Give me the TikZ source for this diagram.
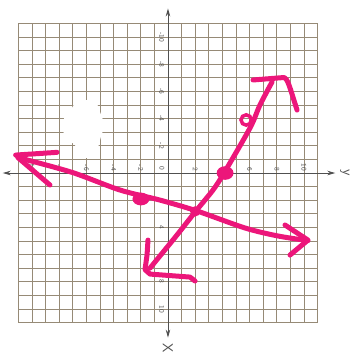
\documentclass[tikz,border=0pt]{standalone}
\usetikzlibrary{arrows.meta}
\definecolor{marker}{RGB}{236,22,122}
\definecolor{paper}{RGB}{150,138,118}
\definecolor{axisgray}{RGB}{80,80,80}
\begin{document}
\begin{tikzpicture}[x=13.6pt, y=13.6pt,
  gridline/.style={draw=paper, line width=0.7pt, step=1},
  axisline/.style={draw=axisgray, line width=0.9pt, {Stealth[length=8pt,width=4.5pt]}-{Stealth[length=8pt,width=4.5pt]}},
  tick/.style={font=\sffamily\scriptsize, text=axisgray, rotate=-90, inner sep=0pt},
  axlab/.style={font=\sffamily\Large, text=axisgray, rotate=-90, inner sep=0pt},
  ink/.style={draw=marker, line width=5pt, line cap=round, line join=round}]
\useasboundingbox (-12.35,-13.82) rectangle (13.97,12.72);
\draw[gridline] (-11,-11) grid (11,11);
\fill[white] plot[smooth cycle] coordinates {(-6.62,5.37) (-5.37,5.22) (-5.0,4.49) (-4.71,3.53) (-5.0,2.43) (-5.22,1.69) (-5.74,1.10) (-6.47,1.32) (-6.84,2.06) (-7.5,2.57) (-7.79,3.53) (-7.5,4.26) (-7.06,4.78)};
\coordinate (west) at (-12.15,0);
\coordinate (east) at (12.3,0);
\coordinate (north) at (0,12.1);
\coordinate (south) at (0,-12.1);
\draw[axisline] (west) -- (east);
\draw[axisline] (north) -- (south);
\node[axlab] (ylab) at (13.0,0) {y};
\node[axlab] (xlab) at (0,-12.85) {X};
\node[tick] (o) at (-0.44,0.37) {0};
\foreach \i in {-10,-8,-6,-4,-2,2,4,6,8,10} {
  \node[tick, anchor=east] (h\i) at (\i,0.12) {\i};
  \node[tick] (v\i) at (-0.47,{-(\i)}) {\i};
}
\draw[ink] plot[smooth] coordinates {(-10.88,1.10) (-7.06,0.05) (-3.53,-1.25) (-0.59,-1.99) (2.13,-2.79) (5.66,-4.04) (8.09,-4.63) (10.29,-4.97)};
\draw[ink] (-8.16,1.52) -- (-11.2,1.32);
\draw[ink] (-11.05,1.15) -- (-8.68,-0.88);
\draw[ink] (8.6,-3.82) -- (10.29,-4.93) -- (8.97,-6.03);
\draw[ink] plot[smooth] coordinates {(-1.32,-6.99) (0.66,-4.56) (1.99,-2.87) (3.31,-1.25) (4.12,0) (6.03,3.31) (6.76,5.0) (7.65,6.69)};
\draw[ink] (-1.47,-4.93) -- (-1.54,-6.03) -- (-1.69,-7.1) -- (-1.32,-7.43) -- (1.62,-7.65) -- (1.99,-7.94);
\draw[ink] (6.25,6.84) -- (8.5,7.02) .. controls (8.8,7.0) and (8.95,6.3) .. (9.49,4.63);
\draw[marker, line width=3.5pt] (5.75,3.9) circle (0.38);
\fill[marker] (4.2,0) ellipse (0.62 and 0.5);
\fill[marker] (-1.99,-1.91) ellipse (0.62 and 0.47);
\fill[marker] (2.0,-2.82) circle (0.38);
\end{tikzpicture}
\end{document}
